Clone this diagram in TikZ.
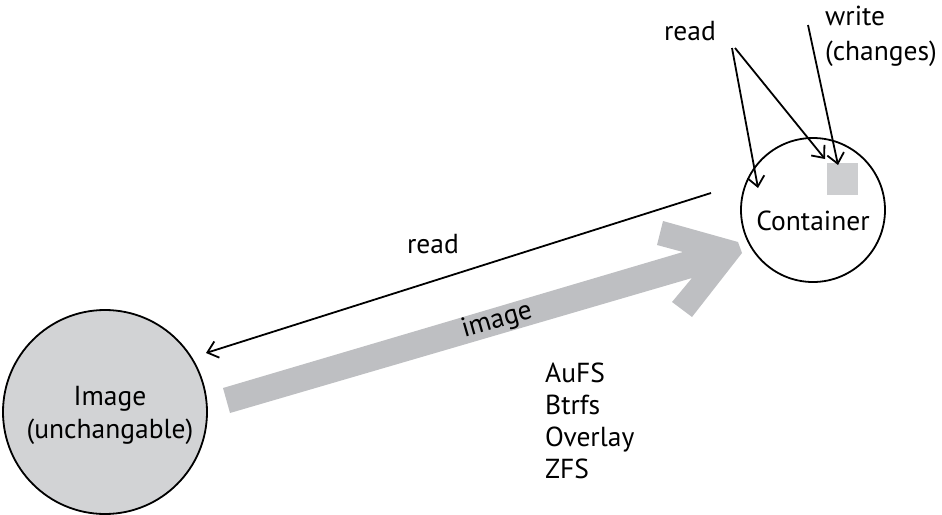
\documentclass[tikz,border=0pt]{standalone}
\usepackage{fontspec}
\setmainfont{PT Sans}
\usetikzlibrary{arrows.meta}
\definecolor{circgrey}{RGB}{210,211,213}
\definecolor{arrgrey}{RGB}{190,191,194}
\definecolor{sqgrey}{RGB}{205,206,208}
\tikzset{
  lbl/.style={inner sep=0pt, font=\fontsize{27.5}{33}\selectfont, text=black},
  thinarrow/.style={draw=black, line width=1.8pt, -{Straight Barb[length=10pt,width=17pt,line width=1.8pt]}},
  bigcircle/.style={circle, draw=black, line width=1.8pt, inner sep=0pt}
}
\begin{document}
\begin{tikzpicture}[x=1pt,y=-1pt]
\useasboundingbox (0,0) rectangle (942,514);
% circles
\node[bigcircle, fill=circgrey, minimum size=204pt] (img) at (105,412) {};
\node[bigcircle, fill=white, minimum size=144pt] (cont) at (813,210) {};
\node[lbl, anchor=base] (imgtxt1) at (110,405) {Image};
\node[lbl, anchor=base] (imgtxt2) at (110,438) {(unchangable)};
\node[lbl, anchor=base] (conttxt) at (813,230) {Container};
\fill[sqgrey] (827,163) rectangle (858,195);
\node[inner sep=0pt, minimum size=0pt] (sq) at (842.5,179) {};
% thick grey arrow
\fill[arrgrey] (230,413) -- (223,388) -- (683,252) -- (657,245) -- (663,221) -- (738,242) -- (742,253) -- (692,317) -- (672,302) -- (692,278) -- cycle;
\node[lbl, rotate=16, anchor=base] (imglbl) at (499,328) {image};
% labels
\node[lbl, anchor=base] (readtop) at (690,40) {read};
\node[lbl, anchor=base west] (write) at (825,25) {write};
\node[lbl, anchor=base west] (changes) at (825,60) {(changes)};
\node[lbl, anchor=base] (readmid) at (433,253) {read};
\node[lbl, anchor=base west] (fs1) at (545,382) {AuFS};
\node[lbl, anchor=base west] (fs2) at (545,414) {Btrfs};
\node[lbl, anchor=base west] (fs3) at (545,446) {Overlay};
\node[lbl, anchor=base west] (fs4) at (545,478) {ZFS};
% connectors
\coordinate (r1s) at (732,48);
\coordinate (r1e) at (758,188);
\coordinate (r2s) at (735,48);
\coordinate (r2e) at (825,159);
\coordinate (ws) at (808,25);
\coordinate (we) at (838,165);
\coordinate (ls) at (711,193);
\coordinate (le) at (206,353);
\draw[thinarrow] (r1s) -- (r1e);
\draw[thinarrow] (r2s) -- (r2e);
\draw[thinarrow] (ws) -- (we);
\draw[thinarrow] (ls) -- (le);
\end{tikzpicture}
\end{document}
